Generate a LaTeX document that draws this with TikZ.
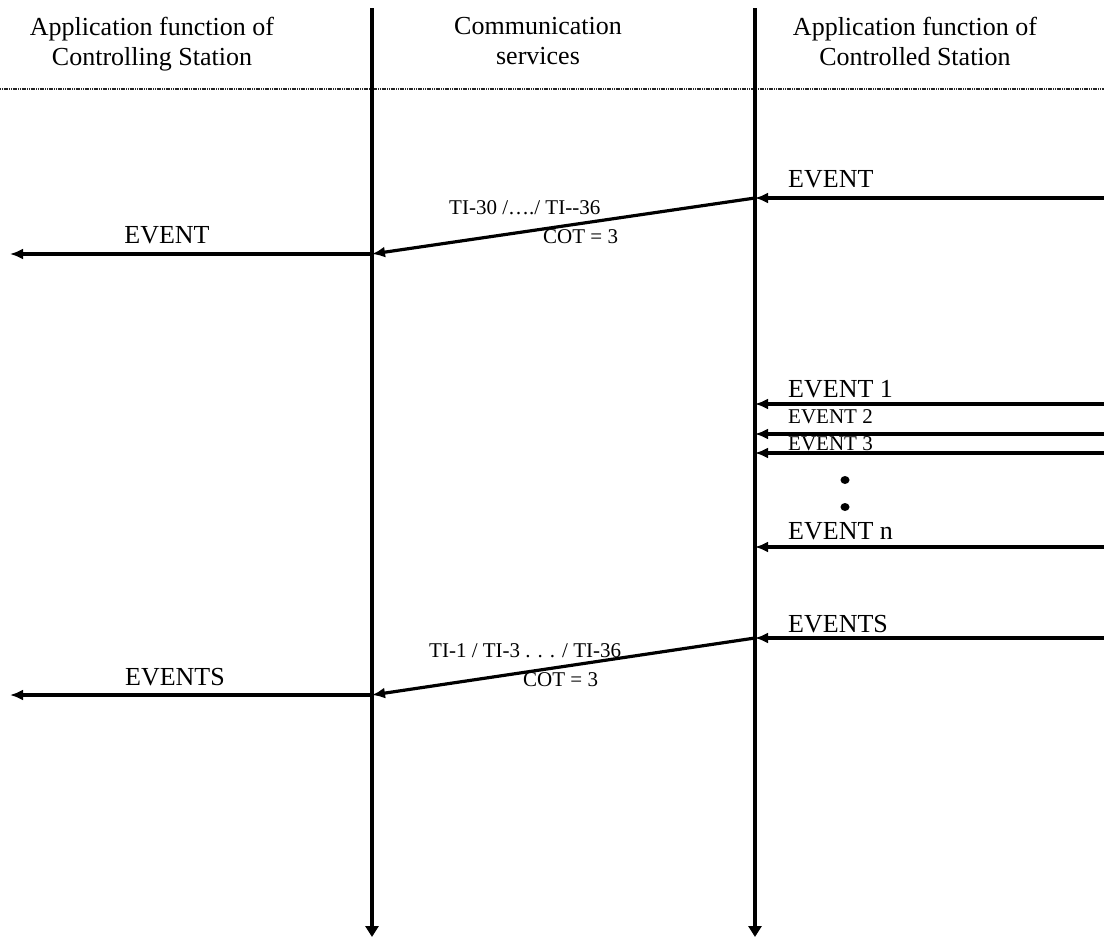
\documentclass[tikz,border=0pt]{standalone}
\usepackage{fontspec}
\setmainfont{Liberation Serif}
\usetikzlibrary{arrows.meta}

\tikzset{
  msg/.style={line width=3.2pt,-{Latex[length=13pt,width=11pt]}},
  life/.style={line width=3.6pt,-{Triangle[length=11pt,width=13pt]}},
  sep/.style={black!85,line width=2.2pt,dash pattern=on 1.2pt off 0.6pt},
  big/.style={font=\fontsize{26}{30}\selectfont,inner sep=0pt},
  small/.style={font=\fontsize{21}{24}\selectfont,inner sep=0pt},
}

\begin{document}
\begin{tikzpicture}[x=1pt,y=-1pt]
	 \useasboundingbox (0,0) rectangle (1104,938);
	 % headers
	 \node[big,align=center,anchor=north] (ctrl) at (152,17) {Application function of\\Controlling Station};
	 \node[big,align=center,anchor=north] (comm) at (538,17) {Communication\\services};
	 \node[big,align=center,anchor=north] (outs) at (915,17) {Application function of\\Controlled Station};
	 \coordinate (sepl) at (0,89);
	 \coordinate (sepr) at (1104,89);
	 \draw[sep] (sepl) -- (sepr);
	 % lifelines
	 \coordinate (lt) at (372,8);
	 \coordinate (lb) at (372,937);
	 \coordinate (rt) at (755,8);
	 \coordinate (rb) at (755,937);
	 \draw[life] (lt) -- (lb);
	 \draw[life] (rt) -- (rb);
	 % single event
	 \coordinate (ein) at (1104,198);
	 \coordinate (er) at (755,198);
	 \coordinate (el) at (372,254);
	 \coordinate (eout) at (10,254);
	 \node[big,anchor=base west] (event) at (788,187) {EVENT};
	 \node[small,anchor=base west] (ti30) at (449,214) {TI-30 /…./ TI-{}-36};
	 \node[small,anchor=base west] (cot1) at (543,243) {COT = 3};
	 \node[big,anchor=base] (eventl) at (167,243) {EVENT};
	 \draw[msg] (ein) -- (er);
	 \draw[msg] (er) -- (el);
	 \draw[msg] (el) -- (eout);
	 % events 1..n
	 \coordinate (in1) at (1104,404);
	 \coordinate (r1) at (755,404);
	 \coordinate (in2) at (1104,434);
	 \coordinate (r2) at (755,434);
	 \coordinate (in3) at (1104,453);
	 \coordinate (r3) at (755,453);
	 \coordinate (inn) at (1104,547);
	 \coordinate (rn) at (755,547);
	 \node[big,anchor=base west] (ev1) at (788,397) {EVENT 1};
	 \node[small,anchor=base west] (ev2) at (788,423) {EVENT 2};
	 \node[small,anchor=base west] (ev3) at (788,450) {EVENT 3};
	 \node[big,anchor=base west] (evn) at (788,539) {EVENT n};
	 \draw[msg] (in1) -- (r1);
	 \draw[msg] (in2) -- (r2);
	 \draw[msg] (in3) -- (r3);
	 \draw[msg] (inn) -- (rn);
	 \fill (845,480) ellipse (4.5pt and 4pt);
	 \fill (845,507) ellipse (4.5pt and 4pt);
	 % collected events
	 \coordinate (sin) at (1104,638);
	 \coordinate (sr) at (755,638);
	 \coordinate (sl) at (372,695);
	 \coordinate (sout) at (10,695);
	 \node[big,anchor=base west] (events) at (788,632) {EVENTS};
	 \node[small,anchor=base west] (ti1) at (429,657) {TI-1 / TI-3 . . . / TI-36};
	 \node[small,anchor=base west] (cot2) at (523,686) {COT = 3};
	 \node[big,anchor=base] (eventsl) at (175,685) {EVENTS};
	 \draw[msg] (sin) -- (sr);
	 \draw[msg] (sr) -- (sl);
	 \draw[msg] (sl) -- (sout);
\end{tikzpicture}
\end{document}
